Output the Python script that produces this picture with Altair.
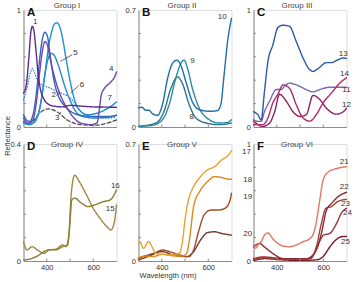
import altair as alt
import pandas as pd

FONT = "Liberation Sans"
W, H = 93, 117

# ---------------- Group I (A) ----------------
A1_WL = [300, 312, 323, 331, 338, 345, 353, 363, 373, 385, 400, 430, 470, 500, 550, 600, 650, 700]
A1_R = [0.29, 0.36, 0.59, 0.80, 0.86, 0.82, 0.67, 0.45, 0.32, 0.25, 0.205, 0.178, 0.172, 0.185, 0.178, 0.172, 0.17, 0.168]
A2_WL = [300, 312, 326, 341, 356, 370, 382, 392, 403, 414, 429, 451, 473, 502, 546, 605, 663, 700]
A2_R = [0.105, 0.063, 0.048, 0.105, 0.30, 0.59, 0.76, 0.81, 0.775, 0.62, 0.42, 0.26, 0.19, 0.134, 0.10, 0.09, 0.09, 0.10]
A3_WL = [300, 322, 345, 370, 407, 444, 488, 546, 605, 663, 700]
A3_R = [0.05, 0.02, 0.06, 0.12, 0.155, 0.13, 0.06, 0.02, 0.015, 0.035, 0.06]
A4_WL = [300, 319, 341, 356, 370, 382, 392, 403, 414, 429, 458, 488, 517, 546, 590, 616, 627, 634, 649, 671, 693, 700]
A4_R = [0.077, 0.034, 0.063, 0.22, 0.475, 0.66, 0.73, 0.70, 0.59, 0.46, 0.276, 0.16, 0.077, 0.034, 0.02, 0.034, 0.16, 0.27, 0.333, 0.376, 0.433, 0.47]
A5_WL = [300, 319, 341, 363, 378, 392, 407, 417, 429, 444, 458, 480, 502, 524, 553, 605, 663, 700]
A5_R = [0.048, 0.026, 0.034, 0.105, 0.25, 0.45, 0.59, 0.63, 0.62, 0.56, 0.476, 0.333, 0.22, 0.134, 0.09, 0.077, 0.083, 0.10]
A6_WL = [300, 315, 329, 338, 348, 363, 385, 414, 444, 473, 502, 524, 546, 575, 619, 663, 700]
A6_R = [0.233, 0.333, 0.46, 0.50, 0.46, 0.39, 0.356, 0.333, 0.305, 0.28, 0.248, 0.19, 0.134, 0.10, 0.083, 0.077, 0.083]
A7_WL = [300, 326, 348, 370, 392, 407, 422, 433, 444, 455, 468, 480, 495, 510, 524, 546, 575, 619, 663, 700]
A7_R = [0.034, 0.02, 0.048, 0.16, 0.45, 0.675, 0.82, 0.88, 0.89, 0.86, 0.76, 0.62, 0.45, 0.305, 0.205, 0.134, 0.105, 0.12, 0.16, 0.214]
A_LAB = ["1", "2", "3", "4", "5", "6", "7"]
A_LAB_WL = [350, 430, 445, 677, 523, 552, 671]
A_LAB_R = [0.90, 0.27, 0.075, 0.50, 0.63, 0.36, 0.25]
A_LEAD_WL = [510, 539, 441, 451]
A_LEAD_R = [0.618, 0.356, 0.27, 0.105]
A_LEAD_WL2 = [458, 502, 455, 461]
A_LEAD_R2 = [0.56, 0.29, 0.29, 0.128]

# ---------------- Group II (B) ----------------
B8_WL = [300, 375, 410, 439, 468, 489, 518, 547, 590, 650, 700]
B8_R = [0.004, 0.024, 0.094, 0.23, 0.30, 0.26, 0.134, 0.054, 0.024, 0.014, 0.024]
B9_WL = [300, 360, 403, 432, 460, 482, 496, 511, 532, 561, 604, 647, 680, 700]
B9_R = [0.004, 0.01, 0.044, 0.134, 0.29, 0.38, 0.40, 0.35, 0.23, 0.114, 0.044, 0.024, 0.026, 0.044]
B10_WL = [300, 315, 331, 345, 360, 382, 403, 425, 446, 465, 482, 504, 532, 561, 604, 640, 654, 668, 683, 700]
B10_R = [0.114, 0.118, 0.10, 0.10, 0.08, 0.07, 0.134, 0.29, 0.38, 0.40, 0.37, 0.27, 0.15, 0.104, 0.094, 0.098, 0.134, 0.31, 0.51, 0.65]
B_LAB = ["8", "9", "10"]
B_LAB_WL = [529, 532, 660]
B_LAB_R = [0.058, 0.395, 0.66]

# ---------------- Group III (C) ----------------
C11_WL = [300, 319, 333, 347, 369, 398, 419, 434, 455, 484, 527, 556, 585, 628, 700]
C11_R = [0.063, 0.048, 0.048, 0.13, 0.22, 0.32, 0.32, 0.35, 0.375, 0.36, 0.32, 0.30, 0.32, 0.34, 0.34]
C12_WL = [300, 340, 369, 391, 412, 441, 470, 499, 527, 556, 585, 614, 657, 686, 700]
C12_R = [0.05, 0.005, 0.034, 0.13, 0.28, 0.22, 0.13, 0.09, 0.105, 0.27, 0.235, 0.16, 0.11, 0.13, 0.16]
C13_WL = [300, 319, 333, 347, 362, 383, 405, 427, 455, 484, 513, 542, 556, 578, 614, 635, 664, 686, 700]
C13_R = [0.13, 0.105, 0.06, 0.30, 0.56, 0.70, 0.85, 0.87, 0.86, 0.73, 0.59, 0.49, 0.475, 0.50, 0.55, 0.55, 0.575, 0.59, 0.585]
C14_WL = [300, 340, 362, 383, 405, 427, 455, 484, 513, 542, 570, 599, 635, 671, 700]
C14_R = [0.02, 0.02, 0.077, 0.205, 0.28, 0.36, 0.33, 0.19, 0.077, 0.05, 0.105, 0.205, 0.29, 0.375, 0.42]
C_LAB = ["11", "12", "13", "14"]
C_LAB_WL = [700, 700, 686, 691]
C_LAB_R = [0.32, 0.19, 0.62, 0.45]

# ---------------- Group IV (D) ----------------
D15_WL = [300, 315, 337, 359, 388, 410, 439, 468, 483, 495, 505, 520, 541, 571, 600, 629, 658, 676, 691, 700]
D15_R = [0.066, 0.038, 0.049, 0.038, 0.026, 0.038, 0.04, 0.055, 0.049, 0.089, 0.226, 0.293, 0.27, 0.226, 0.18, 0.146, 0.118, 0.106, 0.135, 0.192]
D16_WL = [300, 337, 366, 388, 410, 439, 468, 490, 498, 508, 520, 549, 578, 607, 644, 673, 700]
D16_R = [0.003, 0.009, 0.02, 0.032, 0.038, 0.038, 0.049, 0.055, 0.112, 0.209, 0.215, 0.198, 0.186, 0.192, 0.203, 0.209, 0.243]
D_LAB = ["15", "16"]
D_LAB_WL = [673, 695]
D_LAB_R = [0.178, 0.257]

# ---------------- Group V (E) ----------------
E17_WL = [300, 306, 321, 343, 358, 373, 403, 433, 463, 478, 490, 500, 515, 537, 567, 597, 627, 657, 687, 700]
E17_R = [0.106, 0.116, 0.076, 0.116, 0.086, 0.046, 0.04, 0.036, 0.04, 0.05, 0.126, 0.245, 0.365, 0.445, 0.505, 0.545, 0.564, 0.604, 0.634, 0.66]
E18_WL = [300, 330, 360, 403, 460, 490, 507, 519, 537, 567, 597, 627, 657, 687, 700]
E18_R = [0.02, 0.03, 0.026, 0.04, 0.03, 0.03, 0.046, 0.126, 0.325, 0.425, 0.475, 0.505, 0.50, 0.489, 0.489]
E19_WL = [300, 358, 403, 433, 478, 515, 537, 560, 582, 612, 642, 672, 694, 700]
E19_R = [0.006, 0.036, 0.066, 0.056, 0.036, 0.026, 0.066, 0.185, 0.275, 0.305, 0.305, 0.315, 0.365, 0.405]
E20_WL = [300, 343, 403, 448, 507, 537, 567, 597, 627, 657, 700]
E20_R = [0.016, 0.036, 0.056, 0.036, 0.026, 0.056, 0.126, 0.17, 0.175, 0.165, 0.155]
E_LAB = ["17", "18", "19", "20"]
E_LAB_WL = [764, 770, 770, 770]
E_LAB_R = [0.652, 0.485, 0.385, 0.16]

# ---------------- Group VI (F) ----------------
F21_WL = [300, 309, 319, 333, 347, 362, 383, 405, 427, 455, 484, 513, 542, 563, 585, 599, 621, 657, 700]
F21_R = [0.137, 0.108, 0.137, 0.165, 0.22, 0.24, 0.19, 0.15, 0.128, 0.122, 0.137, 0.165, 0.19, 0.265, 0.52, 0.69, 0.76, 0.79, 0.806]
F22_WL = [300, 326, 347, 383, 427, 530, 570, 592, 614, 635, 664, 700]
F22_R = [0.12, 0.15, 0.12, 0.065, 0.02, 0.02, 0.094, 0.236, 0.436, 0.49, 0.55, 0.587]
F23_WL = [300, 340, 380, 430, 500, 546, 570, 592, 611, 635, 664, 700]
F23_R = [0.01, 0.03, 0.02, 0.015, 0.015, 0.02, 0.12, 0.32, 0.45, 0.465, 0.51, 0.527]
F24_WL = [300, 340, 400, 460, 530, 560, 585, 600, 628, 657, 678, 700]
F24_R = [0.02, 0.035, 0.025, 0.015, 0.02, 0.06, 0.17, 0.22, 0.236, 0.32, 0.41, 0.45]
F25_WL = [300, 350, 420, 500, 570, 599, 628, 657, 686, 700]
F25_R = [0.005, 0.02, 0.01, 0.005, 0.01, 0.037, 0.12, 0.185, 0.21, 0.21]
F_LAB = ["21", "22", "23", "24", "25"]
F_LAB_WL = [690, 690, 696, 704, 696]
F_LAB_R = [0.85, 0.63, 0.485, 0.41, 0.16]

LETTERS = ["A", "B", "C", "D", "E", "F"]
TITLES = ["Group I", "Group II", "Group III", "Group IV", "Group V", "Group VI"]
YMAX = [1, 0.7, 1, 0.4, 0.7, 1]
X_TICKS = [400, 500, 600]
X_LABELS = [400, 600]

AXIS_GRAY = "#8c8c8c"
TEXT_C = "#333333"


def panel(idx, curves, labels, leaders=None, top_row=True, ytitle=False, xtitle=False):
    ymax = YMAX[idx]
    rows = []
    for cid, wl, r, color, dash in curves:
        for a, b in zip(wl, r):
            rows.append({"wl": a, "r": b, "cid": cid, "dash": dash})
    df = pd.DataFrame(rows)
    ids = [c[0] for c in curves]
    cols = [c[3] for c in curves]

    xkw = dict(values=X_LABELS, labels=not top_row, ticks=False, grid=False,
               domainColor=AXIS_GRAY, labelFontSize=7.5, labelPadding=2,
               labelColor=TEXT_C, labelFont=FONT)
    if xtitle:
        xkw.update(title="Wavelength (nm)", titleX=29, titleFontSize=7.5,
                   titleFontWeight="normal", titlePadding=1, titleColor=TEXT_C, titleFont=FONT)
    else:
        xkw.update(title=None)
    ykw = dict(values=[0, ymax], format="~g", ticks=False, grid=False,
               domainColor=AXIS_GRAY, labelFontSize=7.5, labelPadding=3,
               labelColor=TEXT_C, labelFont=FONT)
    if ytitle:
        ykw.update(title="Reflectance", titleX=-12, titleY=125.5, titleAngle=270,
                   titleBaseline="bottom", titleAlign="center", titleFontSize=7.5,
                   titleFontWeight="normal", titleColor=TEXT_C, titleFont=FONT)
    else:
        ykw.update(title=None)

    x_enc = alt.X("wl:Q", scale=alt.Scale(domain=[300, 700], nice=False, zero=False), axis=alt.Axis(**xkw))
    y_enc = alt.Y("r:Q", scale=alt.Scale(domain=[0, ymax], nice=False, zero=True), axis=alt.Axis(**ykw))

    lines = alt.Chart(df).mark_line(strokeWidth=1.4, interpolate="monotone", strokeCap="round").encode(
        x=x_enc, y=y_enc,
        color=alt.Color("cid:N", scale=alt.Scale(domain=ids, range=cols), legend=None),
        strokeDash=alt.StrokeDash("dash:N", scale=alt.Scale(domain=["solid", "dash", "dot"],
                                                             range=[[1, 0], [3.5, 2.5], [0.3, 2.4]]), legend=None),
        detail="cid:N",
    )

    xt = alt.Chart(pd.DataFrame({"wl": X_TICKS})).mark_rule(color=AXIS_GRAY, strokeWidth=1).encode(
        x=x_enc, y=alt.value(H), y2=alt.value(H - 2.5))
    yt_vals = [ymax * i / 5 for i in range(1, 5)]
    yt = alt.Chart(pd.DataFrame({"r": yt_vals})).mark_rule(color=AXIS_GRAY, strokeWidth=1).encode(
        y=y_enc, x=alt.value(0), x2=alt.value(2.5))

    lab_txt, lab_wl, lab_r = labels
    labs = alt.Chart(pd.DataFrame({"wl": lab_wl, "r": lab_r, "t": lab_txt})).mark_text(
        fontSize=8, font=FONT, color=TEXT_C, align="center", baseline="middle").encode(
        x=x_enc, y=y_enc, text="t:N")

    letter = alt.Chart(pd.DataFrame({"t": [LETTERS[idx]]})).mark_text(
        fontSize=11.5, fontWeight="bold", font=FONT, color="#111111", align="left", baseline="alphabetic").encode(
        x=alt.value(3.5), y=alt.value(6), text="t:N")
    title = alt.Chart(pd.DataFrame({"t": [TITLES[idx]]})).mark_text(
        fontSize=8, font=FONT, color="#444444", align="center", baseline="alphabetic").encode(
        x=alt.value(W / 2 - 3), y=alt.value(-2.5 if top_row else 2.5), text="t:N")

    layers = [lines, xt, yt, labs, letter, title]
    if leaders is not None:
        lw, lr, lw2, lr2 = leaders
        ld = alt.Chart(pd.DataFrame({"wl": lw, "r": lr, "wl2": lw2, "r2": lr2})).mark_rule(
            color="#444444", strokeWidth=0.8).encode(x=x_enc, y=y_enc, x2="wl2:Q", y2="r2:Q")
        layers.append(ld)
    return alt.layer(*layers).properties(width=W, height=H)


pA = panel(0, [
    ("3", A3_WL, A3_R, "#55555f", "dash"),
    ("6", A6_WL, A6_R, "#2a80d4", "dot"),
    ("5", A5_WL, A5_R, "#2a86cc", "solid"),
    ("7", A7_WL, A7_R, "#1e8fd6", "solid"),
    ("2", A2_WL, A2_R, "#3366bb", "solid"),
    ("4", A4_WL, A4_R, "#6e48aa", "solid"),
    ("1", A1_WL, A1_R, "#5e2a8e", "solid"),
], (A_LAB, A_LAB_WL, A_LAB_R), leaders=(A_LEAD_WL, A_LEAD_R, A_LEAD_WL2, A_LEAD_R2), top_row=True, ytitle=True)

pB = panel(1, [
    ("8", B8_WL, B8_R, "#2f7585", "solid"),
    ("9", B9_WL, B9_R, "#2a8ca5", "solid"),
    ("10", B10_WL, B10_R, "#1f6fa8", "solid"),
], (B_LAB, B_LAB_WL, B_LAB_R), top_row=True)

pC = panel(2, [
    ("11", C11_WL, C11_R, "#7a6ab2", "solid"),
    ("12", C12_WL, C12_R, "#8e2268", "solid"),
    ("14", C14_WL, C14_R, "#b02a6c", "solid"),
    ("13", C13_WL, C13_R, "#2b5aa8", "solid"),
], (C_LAB, C_LAB_WL, C_LAB_R), top_row=True)

pD = panel(3, [
    ("15", D15_WL, D15_R, "#a08a40", "solid"),
    ("16", D16_WL, D16_R, "#8c7c36", "solid"),
], (D_LAB, D_LAB_WL, D_LAB_R), top_row=False)

pE = panel(4, [
    ("20", E20_WL, E20_R, "#6e3c28", "solid"),
    ("19", E19_WL, E19_R, "#a04a28", "solid"),
    ("18", E18_WL, E18_R, "#d88c20", "solid"),
    ("17", E17_WL, E17_R, "#eaa232", "solid"),
], (E_LAB, E_LAB_WL, E_LAB_R), top_row=False, xtitle=True)

pF = panel(5, [
    ("25", F25_WL, F25_R, "#7a1a26", "solid"),
    ("24", F24_WL, F24_R, "#963236", "solid"),
    ("23", F23_WL, F23_R, "#a84038", "solid"),
    ("22", F22_WL, F22_R, "#8c2a30", "solid"),
    ("21", F21_WL, F21_R, "#e07a62", "solid"),
], (F_LAB, F_LAB_WL, F_LAB_R), top_row=False)

chart = alt.concat(pA, pB, pC, pD, pE, pF, columns=3).properties(
    spacing={"row": 17, "column": 22},
    bounds="flush",
    padding={"left": 2.5, "top": 1, "right": 2, "bottom": 2},
    background="white",
).resolve_scale(
    color="independent", strokeDash="independent"
).configure_view(stroke=None).configure(font=FONT)

chart.save("out.html", embed_options={"renderer": "svg", "actions": False})
